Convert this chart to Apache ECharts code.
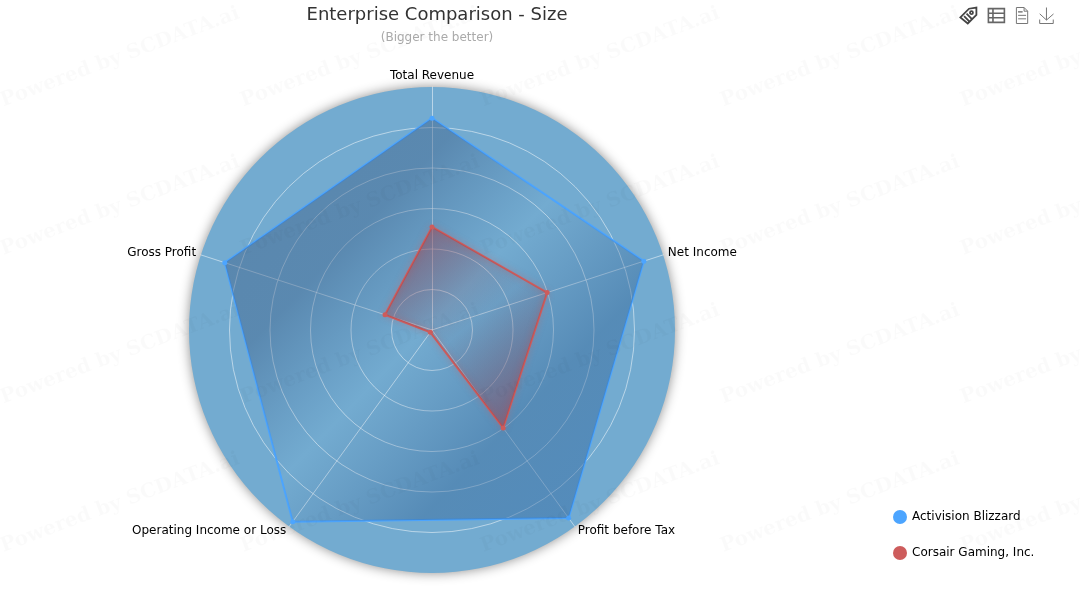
<!doctype html>
<html lang="en">
<head>
<title>Enterprise Comparison - Size</title>
<meta charset="utf-8">
<style>
html, body { margin: 0; background: #fff; }
#chart { width: 1080px; height: 600px; }
</style>
</head>
<body>
<div id="chart"></div>
<script src="https://cdn.jsdelivr.net/npm/echarts@6/dist/echarts.min.js"></script>
<script>
// radar runs counter clockwise from the top
const indicators = ['Total Revenue', 'Gross Profit', 'Operating Income or Loss', 'Profit before Tax', 'Net Income'];
const activision = [104.6, 107.6, 117, 114.8, 110];
const corsair = [50.9, 24.4, 1.4, 59.8, 59.8];
const seriesNames = ['Activision Blizzard', 'Corsair Gaming, Inc.'];
const watermark = 'Powered by SCDATA.ai';

const font = '"DejaVu Sans", sans-serif';
const gradient = stops => new echarts.graphic.LinearGradient(0, 0, 1, 1,
    stops.map(([offset, color]) => ({ offset, color })));

const blueFill = gradient([
    [0, 'rgba(58,88,128,.64)'],
    [.3, 'rgba(58,92,134,.62)'],
    [.5, 'rgba(58,100,150,0)'],
    [.72, 'rgba(48,98,150,.62)'],
    [1, 'rgba(46,104,168,.66)']
]);
const redFill = gradient([
    [0, 'rgba(170,62,72,.85)'],
    [.5, 'rgba(110,60,80,.08)'],
    [1, 'rgba(170,62,72,.85)']
]);

// watermark tiles
const marks = [];
for (let col = 0; col < 5; col++) {
    for (let row = 0; row < 4; row++) {
        marks.push({
            type: 'text',
            x: 5 + col * 240,
            y: 111 + row * 148.5,
            rotation: 20.5 * Math.PI / 180,
            silent: true,
            z: 100,
            style: {
                text: watermark,
                fill: 'rgba(0,0,0,.02)',
                font: 'bold 20px "DejaVu Serif", serif',
                textVerticalAlign: 'bottom'
            }
        });
    }
}

const chart = echarts.init(document.getElementById('chart'));
chart.setOption({
    animation: false,
    backgroundColor: '#fff',
    title: {
        text: 'Enterprise Comparison - Size',
        subtext: '(Bigger the better)',
        left: 432,
        top: 1,
        textAlign: 'center',
        itemGap: 8,
        textStyle: { fontFamily: font, fontSize: 18, fontWeight: 'normal', color: '#333' },
        subtextStyle: { fontFamily: font, fontSize: 12, color: '#aaa' }
    },
    toolbox: {
        right: 9,
        top: -10,
        itemSize: 16,
        itemGap: 7,
        iconStyle: { borderColor: '#777', borderWidth: 1, color: 'none' },
        feature: {
            myTag: {
                show: true,
                title: 'Tag',
                icon: 'path://M2 9 L9 2 L15 1 L15 7 L8 14 Z M11 4 a1.2 1.2 0 1 0 .01 0 Z M5 8 L9 12 M7 6 L11 10',
                iconStyle: { borderColor: '#444', borderWidth: 1.8 },
                onclick: function () {}
            },
            myTable: {
                show: true,
                title: 'Table',
                icon: 'path://M1 2 H15 V14 H1 Z M1 6 H15 M1 10 H15 M5 2 V14',
                iconStyle: { borderColor: '#666', borderWidth: 1.6 },
                onclick: function () {}
            },
            dataView: { show: true, readOnly: true },
            saveAsImage: { show: true }
        }
    },
    legend: {
        orient: 'vertical',
        left: 888,
        top: 505,
        itemWidth: 14,
        itemHeight: 14,
        itemGap: 22,
        icon: 'circle',
        data: seriesNames,
        textStyle: { fontFamily: font, fontSize: 12, color: '#000' }
    },
    radar: {
        center: [432, 330],
        radius: 243,
        splitNumber: 6,
        nameGap: 5,
        indicator: indicators.map(name => ({ name, max: 120 })),
        axisName: { color: '#000', fontFamily: font, fontSize: 12 },
        shape: 'circle',
        axisLine: { lineStyle: { color: 'rgba(255,255,255,.5)' } },
        splitLine: {
            lineStyle: {
                // the outermost ring has no white edge
                color: [
                    'rgba(255,255,255,.5)', 'rgba(255,255,255,.5)', 'rgba(255,255,255,.5)',
                    'rgba(255,255,255,.5)', 'rgba(255,255,255,.5)', 'rgba(255,255,255,.5)',
                    'transparent'
                ]
            }
        },
        splitArea: {
            areaStyle: {
                color: ['#73abd0'],
                shadowColor: 'rgba(0,0,0,.45)',
                shadowBlur: 12
            }
        }
    },
    series: [{
        type: 'radar',
        symbol: 'circle',
        symbolSize: 5,
        data: [{
            name: seriesNames[0],
            value: activision,
            itemStyle: { color: '#4ca5ff' },
            lineStyle: { color: '#4ca5ff', width: 2 },
            areaStyle: { color: blueFill }
        }, {
            name: seriesNames[1],
            value: corsair,
            itemStyle: { color: '#cd5c5c' },
            lineStyle: { color: '#cd5c5c', width: 2, shadowColor: 'rgba(205,92,92,.6)', shadowBlur: 6 },
            areaStyle: { color: redFill }
        }]
    }],
    graphic: { elements: marks }
});
</script>
</body>
</html>
